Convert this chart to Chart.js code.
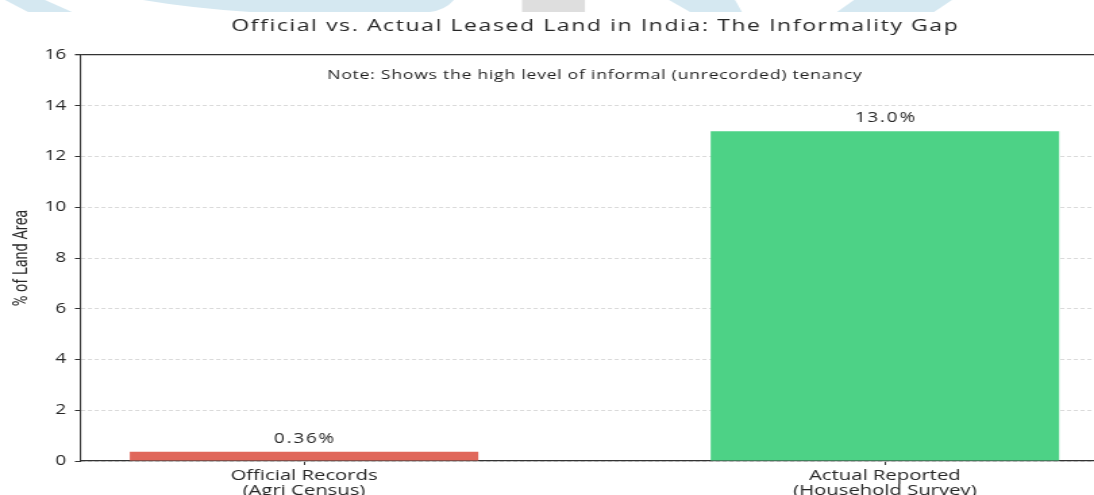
<!DOCTYPE html>
<html lang="en">
<head>
    <meta charset="UTF-8"/>
    <script src="https://cdn.jsdelivr.net/npm/chart.js@4.4.1/dist/chart.umd.min.js"></script>
    <title>Official vs. Actual Leased Land in India</title>
    <style>
        html, body { margin: 0; padding: 0; background: #fff; overflow: hidden; }
        #gapChart { display: block; }
    </style>
</head>
<body>
<!-- the source picture is stretched sideways, so the canvas is drawn narrow and widened by css -->
<canvas id="gapChart" width="810" height="495" style="width:1094px;height:495px;"></canvas>

<script>
    // data
    const categories = [
        ['Official Records', '(Agri Census)'],
        ['Actual Reported', '(Household Survey)']
    ];
    const shareOfLand = [0.36, 13.0];
    const valueLabels = ['0.36%', '13.0%'];
    const yTicks = [0, 2, 4, 6, 8, 10, 12, 14, 16];

    const chartTitle = 'Official vs. Actual Leased Land in India: The Informality Gap';
    const noteText = 'Note: Shows the high level of informal (unrecorded) tenancy';
    const yTitle = '% of Land Area';

    const STRETCH = 1094 / 810;
    const FONT = '"Open Sans", Roboto, sans-serif';
    const TEXT = '#262626';

    // draw text fitted to a given width with letter spacing
    function spacedText(ctx, text, x, y, width) {
        ctx.letterSpacing = '0px';
        const w = ctx.measureText(text).width;
        const sp = (width - w) / text.length;
        ctx.letterSpacing = sp.toFixed(2) + 'px';
        ctx.fillText(text, x + sp / 2, y);
        ctx.letterSpacing = '0px';
    }

    // faint watermark strip at the top (drawn in screen pixels)
    const watermark = {
        id: 'watermark',
        beforeDraw(chart) {
            const ctx = chart.ctx;
            ctx.save();
            ctx.scale(1 / STRETCH, 1);
            ctx.fillStyle = '#d5e8f1';
            const shapes = [
                [[5, 0], [45, 0], [72, 12], [28, 12]],
                [[669, 0], [735, 0], [742, 12], [690, 12]],
                [[854, 0], [952, 0], [934, 12], [837, 12]]
            ];
            shapes.forEach(s => {
                ctx.beginPath();
                s.forEach((p, i) => i ? ctx.lineTo(p[0], p[1]) : ctx.moveTo(p[0], p[1]));
                ctx.closePath();
                ctx.fill();
            });
            ctx.beginPath();
            ctx.moveTo(143, 0);
            ctx.lineTo(454, 0);
            ctx.quadraticCurveTo(445, 10, 430, 12);
            ctx.lineTo(250, 12);
            ctx.quadraticCurveTo(190, 8, 143, 0);
            ctx.fill();
            ctx.fillStyle = '#dedede';
            ctx.fillRect(522, 0, 63, 12);
            ctx.restore();
        }
    };

    // title, note and value labels
    const annotations = {
        id: 'annotations',
        afterDatasetsDraw(chart) {
            const ctx = chart.ctx;
            const x = chart.scales.x, y = chart.scales.y;
            const mid = x.getPixelForValue(0.5);
            ctx.save();
            ctx.fillStyle = TEXT;
            ctx.textAlign = 'center';
            ctx.textBaseline = 'middle';
            ctx.font = '17px ' + FONT;
            spacedText(ctx, chartTitle, mid, 26, 728 / STRETCH);
            ctx.fillStyle = '#1e1e1e';
            ctx.font = '13px ' + FONT;
            spacedText(ctx, noteText, mid, y.getPixelForValue(15.2), 535 / STRETCH);

            ctx.fillStyle = TEXT;
            ctx.font = '14px ' + FONT;
            ctx.textBaseline = 'alphabetic';
            shareOfLand.forEach((v, i) => {
                spacedText(ctx, valueLabels[i], x.getPixelForValue(i), y.getPixelForValue(v) - 9, 62 / STRETCH);
            });
            ctx.restore();
        }
    };

    const ctx = document.getElementById('gapChart').getContext('2d');
    const gapChart = new Chart(ctx, {
        type: 'bar',
        data: {
            datasets: [{
                label: yTitle,
                data: shareOfLand.map((v, i) => ({x: i, y: v})),
                backgroundColor: ['#e0675a', '#4dd286'],
                borderWidth: 0,
                barPercentage: 0.6,
                categoryPercentage: 1.0
            }]
        },
        options: {
            responsive: false,
            devicePixelRatio: 1,
            animation: false,
            layout: {padding: {top: 55, right: 0, bottom: 0, left: 0}},
            plugins: {
                legend: {display: false},
                tooltip: {enabled: false},
                title: {display: false}
            },
            scales: {
                x: {
                    type: 'linear',
                    offset: false,
                    min: -0.384,
                    max: 1.36,
                    afterBuildTicks: (scale) => {
                        scale.ticks = categories.map((c, i) => ({value: i}));
                    },
                    afterFit: (scale) => { scale.height = 34; },
                    ticks: {
                        color: TEXT,
                        font: {family: FONT, size: 15, lineHeight: 1.0},
                        padding: 3,
                        maxRotation: 0,
                        autoSkip: false,
                        callback: (v) => categories[v]
                    },
                    grid: {
                        offset: false,
                        drawOnChartArea: false,
                        drawTicks: true,
                        tickLength: 4,
                        tickColor: '#333'
                    },
                    border: {display: true, color: '#333', width: 1.3}
                },
                y: {
                    min: 0,
                    max: 16,
                    afterBuildTicks: (scale) => {
                        scale.ticks = yTicks.map(v => ({value: v}));
                    },
                    afterFit: (scale) => { scale.width = 81 / STRETCH; },
                    ticks: {
                        color: TEXT,
                        font: {family: FONT, size: 14},
                        padding: 6.5
                    },
                    grid: {
                        color: (c) => c.tick && c.tick.value === 16 ? '#333' : '#dadada',
                        lineWidth: (c) => c.tick && c.tick.value === 16 ? 1.3 : 1,
                        tickLength: 4.5,
                        tickColor: '#333'
                    },
                    border: {
                        display: true,
                        color: '#333',
                        width: 1.1,
                        dash: (c) => c.tick && c.tick.value === 16 ? [] : [3, 2]
                    },
                    title: {
                        display: true,
                        text: yTitle,
                        color: TEXT,
                        font: {family: 'Roboto, sans-serif', size: 14.5},
                        padding: {top: 7.5, bottom: 0}
                    }
                }
            }
        },
        plugins: [watermark, annotations]
    });
</script>
</body>
</html>
